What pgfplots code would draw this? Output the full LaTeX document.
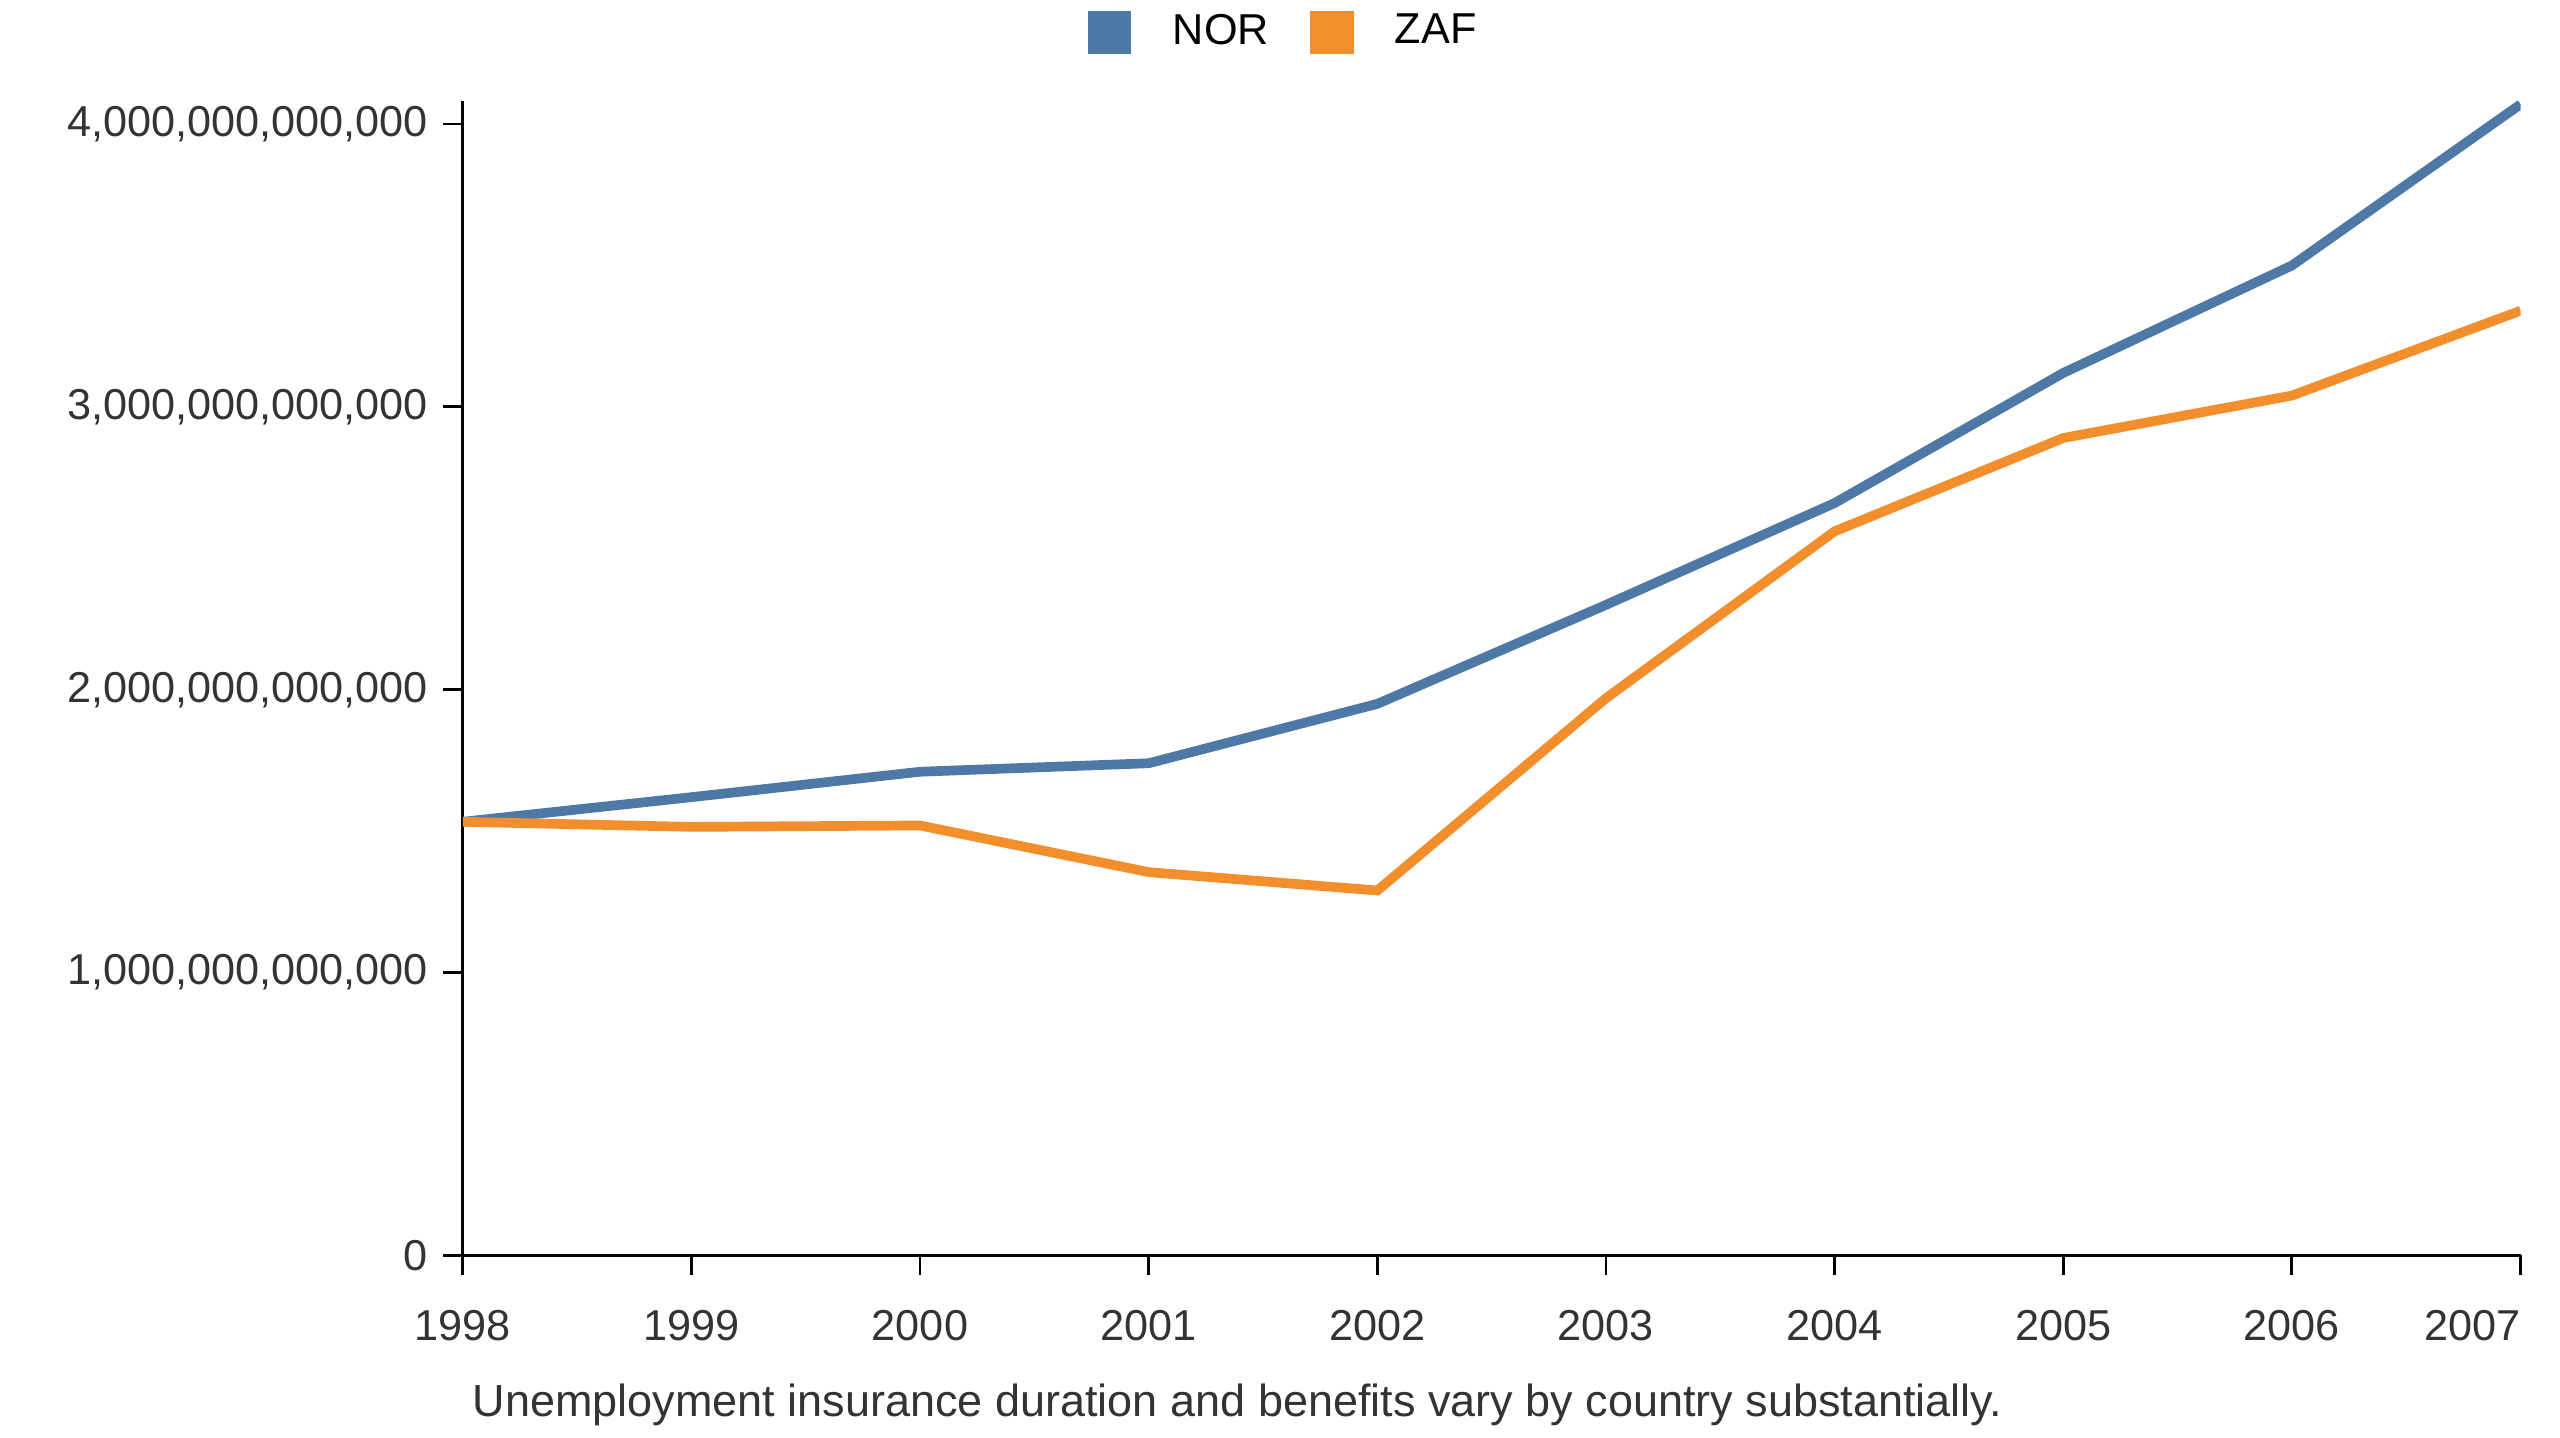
\documentclass[border=0pt]{standalone}
\usepackage{pgfplots}
\pgfplotsset{compat=1.18}
\usepackage{fontspec}
\setmainfont{Liberation Sans}
\definecolor{nor}{HTML}{4E79A7}
\definecolor{zaf}{HTML}{F28E2B}
\definecolor{txt}{HTML}{333333}
\begin{document}
\fontsize{12.5}{15}\selectfont
\begin{tikzpicture}
\useasboundingbox (-4.70cm,-1.85cm) rectangle (21.3cm,12.75cm);
\begin{axis}[
  at={(0,0)}, anchor=south west,
  scale only axis, width=20.9cm, height=11.72cm,
  xmin=1998, xmax=2007, ymin=0, ymax=4.08,
  axis x line*=bottom, axis y line*=left,
  xtick={1998,...,2007},
  xticklabels={1998,1999,2000,2001,2002,2003,2004,2005,2006,\makebox[0pt][r]{2007}},
  ytick={0,1,2,3,4},
  yticklabels={0,{1,000,000,000,000},{2,000,000,000,000},{3,000,000,000,000},{4,000,000,000,000}},
  tick style={black, thick}, major tick length=0.2cm,
  tick align=outside,
  axis line style={black, thick},
  ticklabel style={text=txt, font=\fontsize{12.5}{15}\selectfont},
  xticklabel style={yshift=-0.2cm},
  legend style={draw=none, at={(0.40,1.06)}, anchor=center, legend columns=2,
    font=\fontsize{12.5}{15}\selectfont, column sep=0.35cm},
  legend image code/.code={\fill[#1] (0cm,-0.17cm) rectangle (0.34cm,0.17cm);},
]
\addplot[nor, line width=2.8pt] coordinates {(1998,1.533)(1999,1.62)(2000,1.71)(2001,1.74)(2002,1.95)(2003,2.30)(2004,2.66)(2005,3.12)(2006,3.50)(2007,4.07)};
\addlegendentry{NOR}
\addplot[zaf, line width=2.8pt] coordinates {(1998,1.533)(1999,1.515)(2000,1.52)(2001,1.355)(2002,1.29)(2003,1.97)(2004,2.56)(2005,2.89)(2006,3.04)(2007,3.34)};
\addlegendentry{ZAF}
\end{axis}
\node[anchor=west, text=txt, font=\fontsize{13}{15}\selectfont] at (-0.05cm,-1.52cm) {Unemployment insurance duration and benefits vary by country substantially.};
\end{tikzpicture}
\end{document}
